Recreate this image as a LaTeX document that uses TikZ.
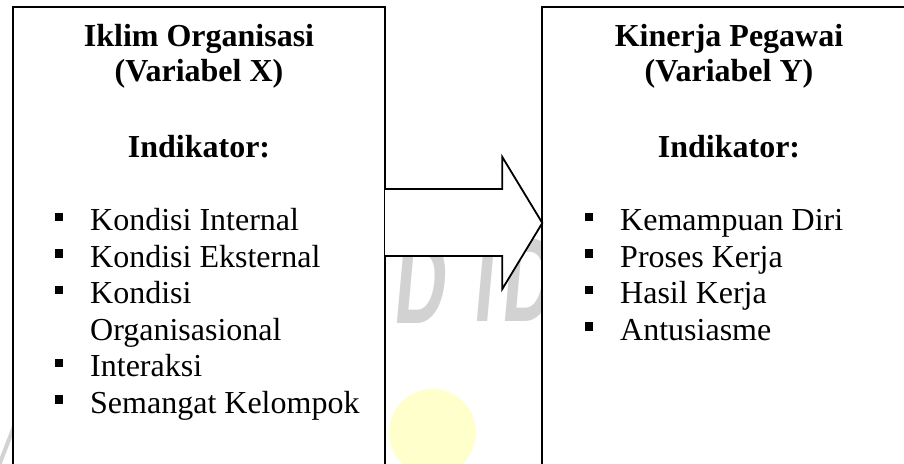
\documentclass[tikz,border=0pt]{standalone}
\usepackage{fontspec}
\setmainfont{Liberation Serif}
\newfontfamily\markfont{Liberation Sans}
\definecolor{markgray}{RGB}{210,210,210}
\definecolor{markyellow}{RGB}{255,255,204}
\begin{document}
\begin{tikzpicture}[x=1pt,y=-1pt,
  varbox/.style={draw=black, line width=2pt, fill=white, rectangle, anchor=north west,
    inner sep=0pt, outer sep=0pt, minimum height=520pt},
  heading/.style={anchor=base, inner sep=0pt, font=\fontsize{32}{36}\selectfont\bfseries},
  item/.style={anchor=base west, inner sep=0pt, font=\fontsize{32}{36}\selectfont},
  sqbullet/.style={fill=black, rectangle, inner sep=0pt, minimum size=8.5pt},
  blockarrow/.style={draw=black, line width=1.8pt, fill=white, line join=miter},
  markletter/.style={text=markgray, font=\markfont\bfseries\fontsize{120}{120}\selectfont,
    inner sep=0pt, anchor=base west, xscale=0.6, xslant=0.15}
]
\useasboundingbox (0,0) rectangle (904,463);
\clip (0,0) rectangle (904,463);

% faint background marks
\fill[markyellow] (432.5,432.5) circle[radius=43.5pt];
\draw[markgray, line width=4pt] (-2,468) -- (15,424);
\node[markletter] (markD) at (392,323) {D};
\node[markletter] (markI) at (472,321) {I};
\node[markletter] (markDD) at (500,321) {D};

% the two variable boxes (open at the bottom edge)
\node[varbox, minimum width=372.3pt] (boxX) at (12.7,6.7) {};
\node[varbox, minimum width=374pt] (boxY) at (542.3,6.7) {};

% block arrow from X to Y
\path (boxX.north east) ++(0,182.3) coordinate (aTL);
\path (boxX.north east) ++(0,249.3) coordinate (aBL);
\path (boxY.north west) ++(0,216.3) coordinate (tip);
\draw[blockarrow] (aTL) -- ([shift={(-40,-34)}]tip) -- ([shift={(-40,-66)}]tip) -- (tip)
  -- ([shift={(-40,66)}]tip) -- ([shift={(-40,33)}]tip) -- (aBL);

% left box text
\node[heading] (xt1) at (199,46) {Iklim Organisasi};
\node[heading] (xt2) at (199,81) {(Variabel X)};
\node[heading] (xind) at (199,157) {Indikator:};
\node[item] (x1) at (90,230.5) {Kondisi Internal};
\node[item] (x2) at (90,267) {Kondisi Eksternal};
\node[item] (x3) at (90,303.5) {Kondisi};
\node[item] (x3b) at (90,340) {Organisasional};
\node[item] (x4) at (90,376.5) {Interaksi};
\node[item] (x5) at (90,413) {Semangat Kelompok};
\node[sqbullet] (bx1) at (59,217) {};
\node[sqbullet] (bx2) at (59,253.5) {};
\node[sqbullet] (bx3) at (59,290) {};
\node[sqbullet] (bx4) at (59,363) {};
\node[sqbullet] (bx5) at (59,399.5) {};

% right box text
\node[heading] (yt1) at (729,46) {Kinerja Pegawai};
\node[heading] (yt2) at (729,81) {(Variabel Y)};
\node[heading] (yind) at (729,157) {Indikator:};
\node[item] (y1) at (620,230.5) {Kemampuan Diri};
\node[item] (y2) at (620,267) {Proses Kerja};
\node[item] (y3) at (620,303.5) {Hasil Kerja};
\node[item] (y4) at (620,340) {Antusiasme};
\node[sqbullet] (by1) at (589,217) {};
\node[sqbullet] (by2) at (589,253.5) {};
\node[sqbullet] (by3) at (589,290) {};
\node[sqbullet] (by4) at (589,326.5) {};
\end{tikzpicture}
\end{document}
